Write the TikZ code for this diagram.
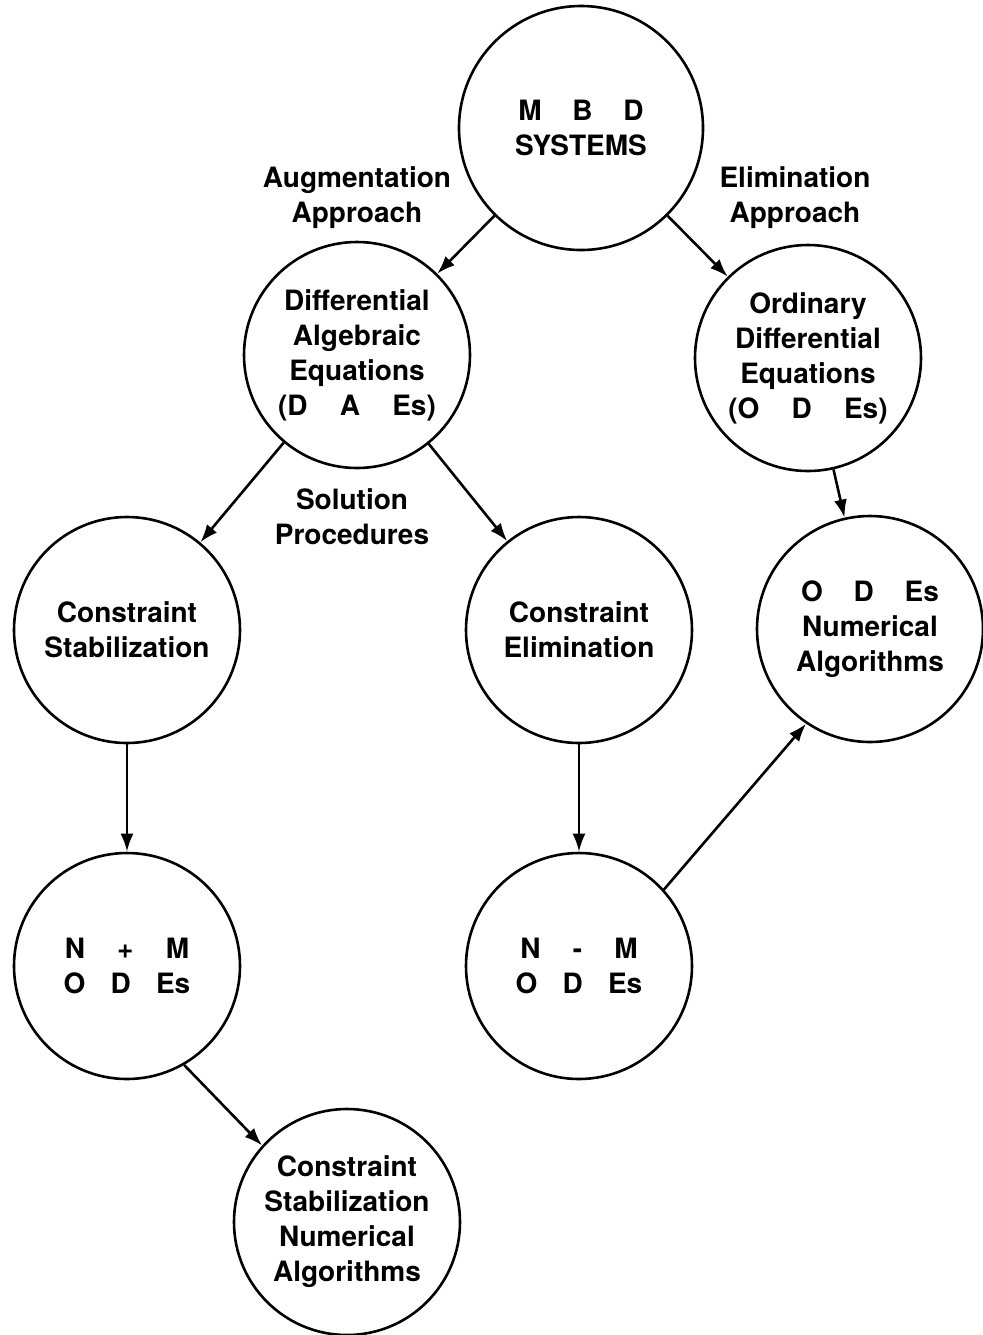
\documentclass[tikz,border=0pt]{standalone}
\usepackage{fontspec}
\setmainfont{TeX Gyre Heros}
\usepackage{tikz}
\usetikzlibrary{positioning}
\usetikzlibrary{arrows.meta}

\begin{document}
\begin{tikzpicture}[on grid,
    every node/.style={font=\fontsize{14pt}{17.5pt}\selectfont\bfseries},
    bubble/.style={circle, draw, line width=1.3pt, minimum size=113pt,
        inner sep=0pt, align=center},
    lbl/.style={align=center}]

        \def\g{1.1em}
        \def\v{137.5pt}

        % Frame with the proportions of the scan
        \useasboundingbox (0,0) rectangle (491.5pt,-667.5pt);

        % Scope with the circles, placed from the top one down
        \begin{scope}
            \node (MBD) [bubble, minimum size=122pt] at (290.5pt,-64pt)
            {M\hspace{\g}B\hspace{\g}D\\SYSTEMS};
            \node (DAE) [bubble, below left=113.5pt and 112pt of MBD]
            {Differential\\Algebraic\\Equations\\(D\hspace{1.15em}A\hspace{1.15em}Es)};
            \node (ODE) [bubble, below right=115pt and 113.5pt of MBD]
            {Ordinary\\Differential\\Equations\\(O\hspace{1.15em}D\hspace{1.15em}Es)};
            \node (CStab) [bubble, below left=\v and 115pt of DAE]
            {Constraint\\Stabilization};
            \node (CElim) [bubble, below right=\v and 111pt of DAE]
            {Constraint\\Elimination};
            \node (ODENum) [bubble, below right=135.5pt and 31pt of ODE]
            {O\hspace{1.1em}D\hspace{1.1em}Es\\Numerical\\Algorithms};
            \node (NMp) [bubble, below=168pt of CStab]
            {N\hspace{1.15em}+\hspace{1.15em}M\\O\hspace{0.9em}D\hspace{0.9em}Es};
            \node (NMm) [bubble, below=168pt of CElim]
            {N\hspace{1.15em}-\hspace{1.15em}M\\O\hspace{0.9em}D\hspace{0.9em}Es};
            \node (CSNA) [bubble, below right=128pt and 110pt of NMp]
            {Constraint\\Stabilization\\Numerical\\Algorithms};

            \node (Aug) [lbl, above=78.5pt of DAE] {Augmentation\\Approach};
            \node (Elim) [lbl, above left=80pt and 6.5pt of ODE]
            {Elimination\\Approach};
            \node (Sol) [lbl, below left=81pt and 2.5pt of DAE]
            {Solution\\Procedures};
        \end{scope}

        \begin{scope}[line width=1.3pt, -{Latex[length=9pt,width=6.5pt]}]
            \draw (MBD) -- (DAE);
            \draw (MBD) -- (ODE);
            \draw (DAE) -- (CStab);
            \draw (DAE) -- (CElim);
            \draw (ODE) -- (ODENum);
            \draw (CStab) -- (NMp);
            \draw (CElim) -- (NMm);
            \draw (NMm.42) -- (ODENum.236);
            \draw (NMp.-60) -- (CSNA.138);
        \end{scope}

\end{tikzpicture}
\end{document}
